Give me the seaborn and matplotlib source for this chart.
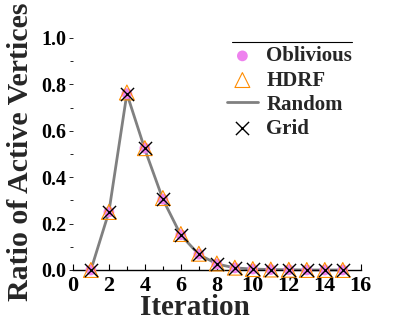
import matplotlib
matplotlib.use("Agg")
import matplotlib.pyplot as plt
import seaborn as sns
import pandas as pd
from matplotlib.ticker import MultipleLocator

iterations = [1, 2, 3, 4, 5, 6, 7, 8, 9, 10, 11, 12, 13, 14, 15]
oblivious = [0.0, 0.25, 0.76, 0.525, 0.305, 0.152, 0.068, 0.026, 0.009, 0.004, 0.002, 0.001, 0.0, 0.0, 0.0]
hdrf = [0.0, 0.25, 0.765, 0.525, 0.31, 0.155, 0.07, 0.028, 0.01, 0.004, 0.002, 0.001, 0.0, 0.0, 0.0]
random_ = [0.0, 0.25, 0.76, 0.52, 0.305, 0.15, 0.067, 0.026, 0.009, 0.004, 0.002, 0.001, 0.0, 0.0, 0.0]
grid = [0.0, 0.25, 0.76, 0.525, 0.305, 0.152, 0.068, 0.026, 0.009, 0.004, 0.002, 0.001, 0.0, 0.0, 0.0]
yticks = [0.0, 0.2, 0.4, 0.6, 0.8, 1.0]
ytick_labels = ['0.0', '0.2', '0.4', '0.6', '0.8', '1.0']

df = pd.DataFrame({"Iteration": iterations, "Oblivious": oblivious, "HDRF": hdrf,
                   "Random": random_, "Grid": grid})

sns.set_style("white")
plt.rcParams['font.family'] = ['Liberation Serif', 'DejaVu Serif']
plt.rcParams['font.weight'] = 'bold'

fig = plt.figure(figsize=(4.19, 3.24), dpi=100)
ax = fig.add_axes([0.174, 0.1667, 0.687, 0.752])

sns.scatterplot(data=df, x="Iteration", y="Oblivious", ax=ax, marker='o', s=60,
                color='violet', edgecolor='none', label='Oblivious', clip_on=False, zorder=3)
sns.scatterplot(data=df, x="Iteration", y="HDRF", ax=ax, marker='^', s=115,
                facecolor='none', edgecolor='darkorange', linewidth=0.8, label='HDRF', clip_on=False, zorder=4)
sns.lineplot(data=df, x="Iteration", y="Random", ax=ax, color='gray', linewidth=2,
             label='Random', clip_on=False, zorder=2)
sns.scatterplot(data=df, x="Iteration", y="Grid", ax=ax, marker='x', s=90,
                color='black', linewidth=1.0, label='Grid', clip_on=False, zorder=5)

ax.set_xlim(0, 16)
ax.set_ylim(0, 1.05)
ax.xaxis.set_major_locator(MultipleLocator(2))
ax.xaxis.set_minor_locator(MultipleLocator(1))
ax.yaxis.set_minor_locator(MultipleLocator(0.1))
ax.set_yticks(yticks)
ax.set_yticklabels(ytick_labels)

for s in ['top', 'right', 'left']:
    ax.spines[s].set_visible(False)
ax.spines['bottom'].set_color('black')
ax.spines['bottom'].set_linewidth(1.0)

ax.tick_params(axis='x', which='both', direction='in', length=4, width=0.8, colors='black',
               labelsize=16, pad=4, bottom=True)
ax.tick_params(axis='x', which='minor', length=3)
ax.tick_params(axis='y', which='both', direction='out', length=3, width=0.6, colors='black',
               labelsize=14.5, pad=2, left=True)
ax.tick_params(axis='y', which='minor', length=2)
for lbl in ax.get_xticklabels() + ax.get_yticklabels():
    lbl.set_fontweight('bold')

ax.set_xlabel("Iteration", fontsize=21, fontweight='bold')
ax.set_ylabel("Ratio of Active Vertices", fontsize=21.5, fontweight='bold')
ax.xaxis.set_label_coords(0.425, -0.097)
ax.yaxis.set_label_coords(-0.135, 0.484)

leg = ax.legend(loc='upper left', bbox_to_anchor=(0.52, 0.935), frameon=False,
                prop={'size': 15, 'weight': 'bold'}, handlelength=1.5,
                handletextpad=0.4, labelspacing=0.2, borderaxespad=0.0, borderpad=0.2)
ax.plot([0.552, 0.969], [0.936, 0.936], transform=ax.transAxes, color='black', lw=0.8, clip_on=False)

fig.savefig("out.png", dpi=100)
